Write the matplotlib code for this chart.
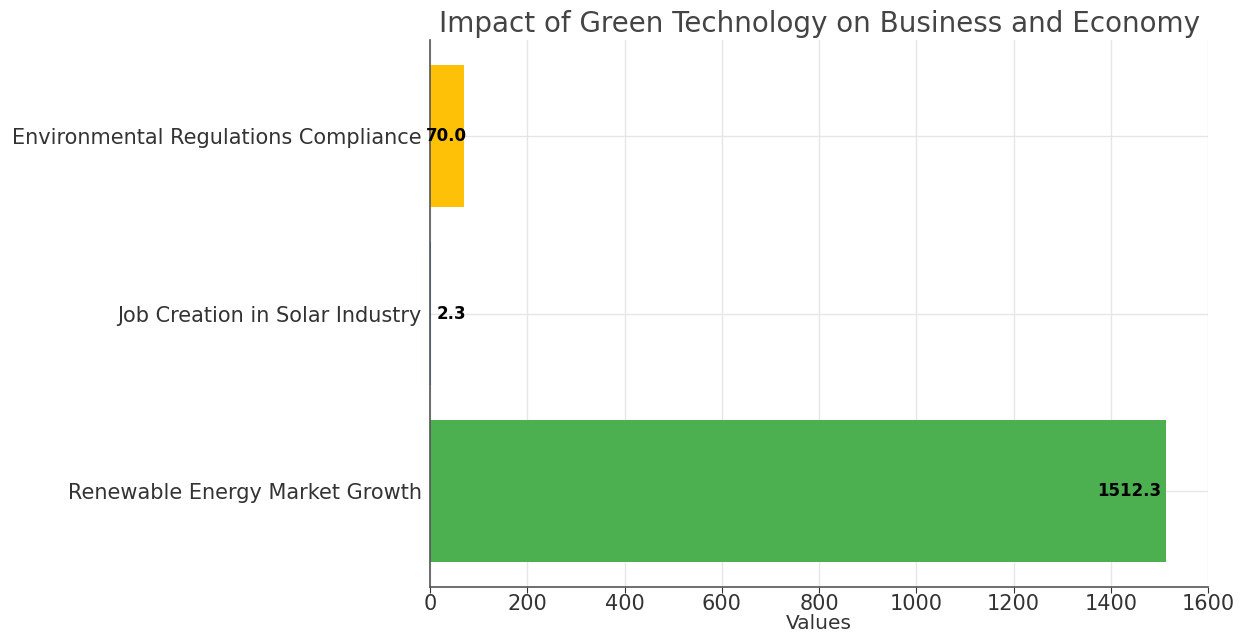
import matplotlib
matplotlib.use("Agg")
import matplotlib.pyplot as plt

categories = ["Renewable Energy Market Growth", "Job Creation in Solar Industry",
              "Environmental Regulations Compliance"]
values = [1512.3, 2.3, 70.0]
colors = ["#4CAF50", "#2196F3", "#FFC107"]
xticks = [0, 200, 400, 600, 800, 1000, 1200, 1400, 1600]

plt.rcParams['font.family'] = ['DejaVu Sans']
fig = plt.figure(figsize=(12.43, 6.34), dpi=100)
ax = fig.add_axes([0.346, 0.074, 0.626, 0.863])
bars = ax.barh(categories, values, color=colors, height=0.8, zorder=2)
ax.set_xlim(0, 1600)
ax.set_xticks(xticks)
ax.grid(True, color="#e6e6e6", linewidth=1, zorder=0)
for s in ["top", "right"]:
    ax.spines[s].set_visible(False)
for s in ["left", "bottom"]:
    ax.spines[s].set_color("#555555")
    ax.spines[s].set_linewidth(1.2)
ax.tick_params(axis='both', labelsize=15, colors="#333333", length=4)
ax.tick_params(axis='x', pad=1)
ax.tick_params(axis='y', length=0, pad=6)
ax.set_xlabel("Values", fontsize=14.5, color="#333333", labelpad=0)
ax.set_title("Impact of Green Technology on Business and Economy", fontsize=20,
             color="#444444", pad=6)
for b, v in zip(bars, values):
    x = max(v, 83) - 8
    ax.text(x, b.get_y() + b.get_height() / 2, f"{v:.1f}", ha="right", va="center",
            fontsize=12, fontweight="bold", color="black", zorder=3)
fig.savefig("out.png", dpi=100)
